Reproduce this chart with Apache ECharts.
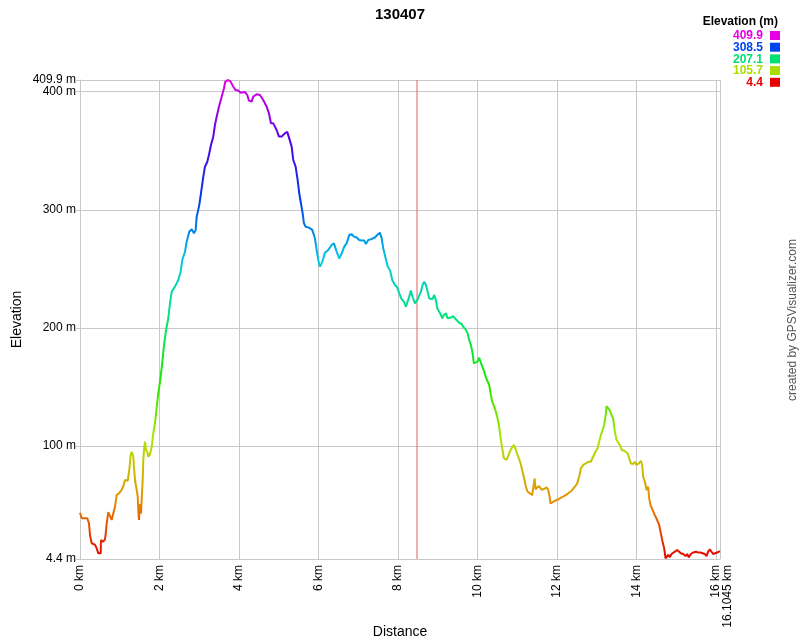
<!DOCTYPE html>
<html>
<head>
<meta charset="utf-8">
<script src="https://cdn.jsdelivr.net/npm/echarts@6/dist/echarts.min.js"></script>
<style>html,body{margin:0;padding:0;background:#fff;}#c{width:800px;height:640px;}</style>
</head>
<body>
<div id="c"></div>
<script>
// ---- data ----
const titleText = '130407';
const distanceKm = [0.000,0.043,0.184,0.226,0.252,0.294,0.335,0.377,0.420,0.460,0.521,0.528,0.579,0.629,0.647,0.672,0.712,0.755,0.797,0.838,0.881,0.923,0.981,1.049,1.089,1.132,1.175,1.200,1.240,1.275,1.301,1.341,1.358,1.384,1.426,1.452,1.467,1.484,1.509,1.535,1.560,1.577,1.592,1.618,1.635,1.660,1.693,1.718,1.761,1.804,1.844,1.887,1.930,1.970,2.013,2.063,2.113,2.164,2.221,2.264,2.307,2.390,2.473,2.533,2.574,2.642,2.684,2.750,2.810,2.868,2.911,2.936,3.001,3.044,3.102,3.145,3.203,3.253,3.296,3.353,3.396,3.439,3.497,3.565,3.623,3.655,3.731,3.791,3.857,3.917,3.982,4.043,4.151,4.209,4.252,4.319,4.360,4.445,4.528,4.611,4.697,4.755,4.805,4.863,4.906,4.948,5.006,5.074,5.157,5.215,5.265,5.326,5.366,5.426,5.477,5.517,5.560,5.603,5.635,5.678,5.718,5.761,5.804,5.844,5.912,5.955,5.995,6.038,6.080,6.121,6.164,6.247,6.332,6.390,6.458,6.523,6.584,6.649,6.709,6.775,6.835,6.893,6.961,7.026,7.087,7.152,7.195,7.253,7.313,7.363,7.421,7.479,7.547,7.590,7.630,7.691,7.741,7.799,7.857,7.925,7.982,8.033,8.093,8.151,8.201,8.234,8.284,8.327,8.370,8.428,8.486,8.536,8.579,8.621,8.662,8.704,8.747,8.787,8.830,8.873,8.913,8.956,8.989,9.039,9.082,9.115,9.157,9.208,9.250,9.291,9.333,9.391,9.434,9.492,9.542,9.603,9.643,9.703,9.754,9.794,9.836,9.879,9.912,9.955,10.005,10.045,10.088,10.131,10.171,10.214,10.257,10.297,10.332,10.372,10.440,10.498,10.541,10.584,10.624,10.667,10.735,10.800,10.860,10.918,10.969,11.026,11.087,11.137,11.178,11.220,11.263,11.321,11.379,11.404,11.439,11.464,11.504,11.555,11.615,11.673,11.741,11.781,11.806,11.842,11.892,11.950,12.033,12.118,12.201,12.284,12.370,12.453,12.511,12.561,12.604,12.662,12.730,12.787,12.855,12.913,12.973,13.024,13.064,13.107,13.150,13.190,13.233,13.250,13.291,13.333,13.376,13.416,13.459,13.502,13.542,13.585,13.628,13.686,13.736,13.779,13.819,13.862,13.920,13.962,14.005,14.063,14.113,14.146,14.171,14.214,14.257,14.297,14.322,14.357,14.408,14.465,14.523,14.574,14.616,14.659,14.700,14.735,14.760,14.800,14.843,14.885,14.926,14.969,15.027,15.077,15.119,15.177,15.238,15.278,15.321,15.371,15.429,15.497,15.555,15.615,15.665,15.723,15.766,15.806,15.849,15.891,15.932,15.982,16.033,16.1045];
const elevationM = [43.6,38.9,38.9,34.6,24.7,17.7,17.0,16.5,13.5,9.2,9.2,20.5,19.0,21.0,25.7,34.5,44.0,45.0,37.5,36.6,48.8,58.6,60.0,63.0,66.0,71.3,72.0,70.5,79.8,92.3,95.2,91.0,82.5,71.3,63.0,57.3,46.0,37.5,51.0,43.0,60.0,71.0,87.6,99.5,103.7,96.7,95.0,91.0,93.0,99.5,110.8,119.3,133.0,144.7,154.5,168.0,185.0,198.0,208.0,220.8,230.7,235.0,240.6,247.6,257.5,264.5,273.0,281.5,283.5,280.1,283.0,294.0,304.0,314.0,328.0,336.5,340.7,347.8,354.9,361.9,371.8,378.8,387.3,395.8,402.9,408.5,409.9,408.5,404.2,401.4,401.0,399.2,399.8,397.2,392.4,391.6,395.8,397.8,397.2,393.0,387.3,381.7,373.2,373.2,373.8,367.6,362.0,362.0,364.8,366.0,360.5,353.5,342.2,336.5,325.2,314.0,305.5,297.0,288.6,285.7,287.0,284.9,286.5,283.0,275.9,266.0,257.5,251.9,254.7,258.7,263.7,266.0,270.2,271.6,264.5,258.8,263.0,268.8,271.6,278.7,279.4,277.3,276.6,274.5,274.0,274.0,271.0,274.5,275.0,274.5,276.6,278.7,280.6,276.0,267.5,259.0,252.0,249.0,240.6,236.4,234.4,229.3,224.3,222.3,218.0,217.4,226.5,231.6,226.0,220.8,223.6,224.5,230.7,236.4,239.2,236.4,230.7,225.0,226.0,224.5,227.9,223.6,216.6,213.8,211.0,208.2,211.0,212.4,208.2,206.7,208.8,210.0,208.2,206.1,204.4,203.3,201.0,198.8,195.4,189.8,185.5,178.5,170.0,168.6,171.5,174.8,170.5,170.0,163.0,158.2,157.4,151.7,144.7,137.6,132.0,124.9,117.9,106.6,98.2,89.7,88.3,93.9,98.2,101.0,96.7,91.0,85.3,78.3,72.6,65.6,61.3,60.0,58.5,60.0,72.6,63.3,65.0,66.0,63.0,63.6,65.0,63.0,59.0,51.4,52.8,53.7,54.8,56.6,58.0,60.0,62.2,65.6,68.4,74.0,81.1,84.0,85.3,86.7,86.7,91.0,95.2,98.2,103.7,109.4,113.6,117.9,127.5,133.9,133.6,130.3,126.1,123.3,112.2,105.2,104.4,101.0,96.7,96.2,95.5,93.9,89.7,85.3,84.8,86.7,84.0,85.3,87.6,84.0,74.0,69.8,62.8,65.6,55.8,50.1,45.9,41.6,37.4,33.2,26.1,19.0,13.4,5.0,4.4,7.8,6.0,8.6,8.6,10.6,12.0,11.3,9.2,8.6,6.9,8.6,5.8,8.6,9.9,10.6,9.9,9.9,9.2,8.6,6.9,10.6,12.5,11.3,8.6,9.9,9.9,11.1];
const xTicks = [0,2,4,6,8,10,12,14,16,16.1045];
const yTicks = [4.4,100,200,300,400];
const yMaxTick = [409.9];
const legendValues = [409.9,308.5,207.1,105.7,4.4];
const legendColors = ['#e600e6','#0044ee','#00e070','#aadd00','#e60000'];
const markerDistances = [8.48];
const elevMin = 4.4, elevMax = 409.9, distMax = 16.1045;

// ---- chart ----
const chart = echarts.init(document.getElementById('c'), null, {renderer:'canvas'});
const FONT = 'Liberation Sans, Arial, sans-serif';
const hueColors = ['#e60000','#e69000','#ace600','#1de600','#00e673','#00c9e6','#003ae6','#5600e6','#e600e6'];

const legendGraphics = [{
  type:'text', right: 22, top: 16,
  style:{text:'Elevation (m)', font:'bold 12px ' + FONT, fill:'#000'}
}];
legendValues.forEach((v,i)=>{
  legendGraphics.push({type:'text', right: 37, top: 30 + i*11.7,
    style:{text: v.toFixed(1), font:'bold 12px ' + FONT, fill: legendColors[i]}});
  legendGraphics.push({type:'rect', right: 20, top: 31 + i*11.7,
    shape:{width:10, height:9}, style:{fill: legendColors[i]}});
});

const markerSeries = markerDistances.map(d => ({
  type:'line', data:[[d, elevMin],[d, elevMax]], showSymbol:false, symbol:'none', silent:true,
  lineStyle:{color:'#e86060', width:1}, z:1
}));

const yLabelStyle = {margin:4, fontFamily:FONT, fontSize:12, color:'#000',
  formatter:function(v){ return v + ' m'; }};

const option = {
  animation:false,
  backgroundColor:'#fff',
  title:{text:titleText, left:'center', top:2, textStyle:{fontFamily:FONT, fontSize:15, fontWeight:'bold', color:'#000'}},
  grid:{left:80, right:80, top:80, bottom:81, containLabel:false, outerBoundsMode:'none'},
  xAxis:{
    type:'value', min:0, max:distMax,
    name:'Distance', nameLocation:'middle', nameGap:66, nameMoveOverlap:false,
    nameTextStyle:{fontFamily:FONT, fontSize:14, color:'#000'},
    axisLine:{show:true, lineStyle:{color:'#c8c8c8'}},
    axisTick:{show:false, customValues:xTicks},
    splitLine:{show:true, lineStyle:{color:'#c8c8c8', width:1}},
    axisLabel:{
      customValues:xTicks, rotate:90, margin:6, hideOverlap:false, showMinLabel:true, showMaxLabel:true,
      fontFamily:FONT, fontSize:12, color:'#000',
      formatter:function(v){ return v === distMax ? '{p|' + v + ' km}' : v + ' km'; },
      rich:{p:{padding:[16,0,0,0], fontFamily:FONT, fontSize:12, color:'#000'}}
    }
  },
  yAxis:[{
    type:'value', min:elevMin, max:elevMax, position:'left',
    name:'Elevation', nameLocation:'middle', nameGap:56, nameMoveOverlap:false,
    nameTextStyle:{fontFamily:FONT, fontSize:14, color:'#000'},
    axisLine:{show:true, lineStyle:{color:'#c8c8c8'}},
    axisTick:{show:true, length:4, customValues:yTicks, lineStyle:{color:'#c8c8c8'}},
    splitLine:{show:true, lineStyle:{color:'#c8c8c8', width:1}},
    axisLabel:Object.assign({customValues:yTicks, showMinLabel:true, showMaxLabel:true}, yLabelStyle)
  },{
    type:'value', min:elevMin, max:elevMax, position:'left', offset:0,
    axisLine:{show:false},
    axisTick:{show:true, length:4, customValues:yMaxTick, lineStyle:{color:'#c8c8c8'}},
    splitLine:{show:true, lineStyle:{color:'#c8c8c8', width:1}},
    axisLabel:Object.assign({customValues:yMaxTick, showMinLabel:true, showMaxLabel:true}, yLabelStyle)
  }],
  visualMap:{show:false, type:'continuous', dimension:1, min:elevMin, max:elevMax, seriesIndex:0,
    inRange:{color:hueColors}},
  series:[{
    type:'line', data: distanceKm.map((d,i)=>[d, elevationM[i]]),
    showSymbol:false, symbol:'none', lineStyle:{width:2}, silent:true, z:2
  }, ...markerSeries],
  graphic:[
    ...legendGraphics,
    {type:'text', x:793, y:320, rotation:Math.PI/2,
      style:{text:'created by GPSVisualizer.com', font:'12px ' + FONT, fill:'#555', align:'center', verticalAlign:'middle'}}
  ]
};
chart.setOption(option);
</script>
</body>
</html>
